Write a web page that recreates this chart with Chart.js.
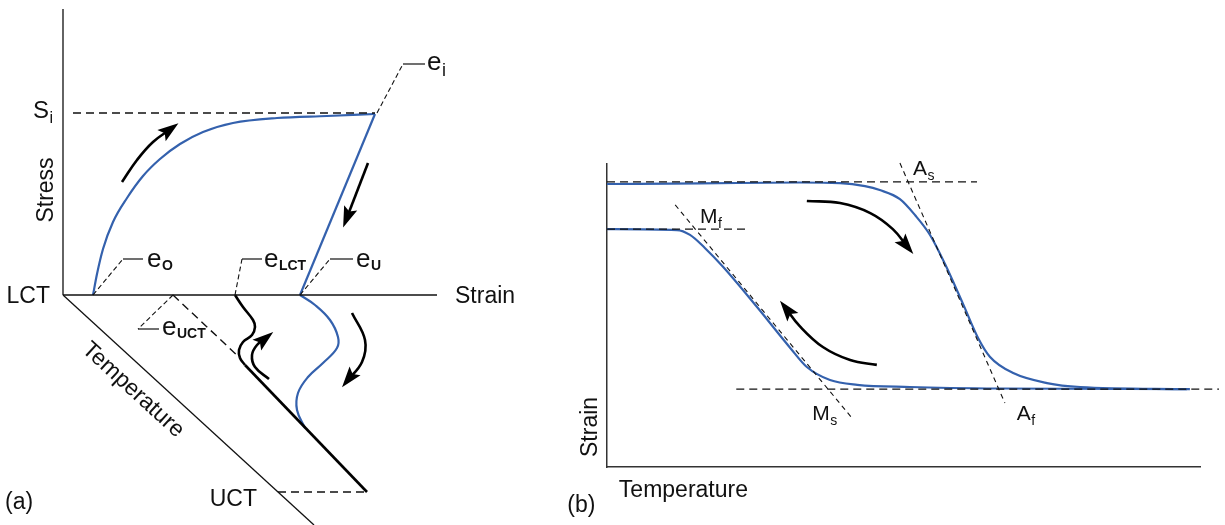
<!DOCTYPE html>
<html>
<head>
<meta charset="utf-8">
<title>Shape memory cycle</title>
<script src="https://cdn.jsdelivr.net/npm/chart.js@4.4.1/dist/chart.umd.min.js"></script>
<style>
    html, body { margin: 0; padding: 0; background: #fff; }
    #wrap { position: relative; width: 1225px; height: 525px; overflow: hidden; }
    #chartA { position: absolute; left: 0; top: 0; }
    #chartB { position: absolute; left: 560px; top: 0; }
</style>
</head>
<body>
<div id="wrap">
    <canvas id="chartA" width="520" height="525"></canvas>
    <canvas id="chartB" width="665" height="525"></canvas>
</div>
<script>
// ---------- (a) stress / strain / temperature, origin at LCT ----------
const stressAxis = [[0, 286], [0, 0]];
const strainAxis = [[0, 0], [374, 0]];
const tempAxis = [[0, 0], [251, -230]];

const loadingCurve = [[30, 0], [34, 21], [40, 46], [50, 73], [64, 97], [80, 119], [97, 136],
    [117, 151], [140, 163], [170, 172], [214, 177], [264, 179], [312, 181]];
const unloadingLine = [[312, 181], [237, 0]];
const recoveryBlue = [[237, 0], [252, -10], [267, -25], [275, -42], [274, -53], [260, -68],
    [245, -82], [235, -98], [234, -115], [242, -133]];
const recoveryBlack = [[172, 0], [180, -12], [190, -25], [192, -32], [189, -40], [180, -47],
    [176, -55], [177, -63], [182, -70]];
const recoveryTail = [[182, -70], [304, -197]];

const siLevel = [[10, 182], [312, 182]];
const uctLevel = [[215, -197], [304, -197]];
const uctProjection = [[110, 0], [177, -63]];

// leader lines: point -> corner (dashed), corner -> label (solid)
const leaderEi = [[314, 182], [340, 231], [362, 231]];
const leaderEo = [[30, 0], [60, 36], [80, 36]];
const leaderElct = [[172, 0], [179, 36], [199, 36]];
const leaderEu = [[237, 0], [267, 36], [290, 36]];
const leaderEuct = [[110, 0], [75, -34], [96, -34]];

const arrowLoad = [[59, 113], [74, 135], [90, 153], [109, 167]];
const arrowUnload = [[305, 132], [283, 75]];
const arrowCoolA = [[289, -18], [302, -45], [299, -67], [284, -86]];
const arrowHeatA = [[206, -84], [192, -72], [189, -60], [194, -50], [204, -42]];

const labelsA = [
    { x: -13, y: -8, text: 'LCT', align: 'right' },
    { x: 392, y: -8, text: 'Strain' },
    { x: -10, y: 105, text: 'Stress', rot: -90, align: 'center' },
    { x: -30, y: 177, text: 'S', sub: 'i', size: 24 },
    { x: 364, y: 225, text: 'e', sub: 'i', size: 26 },
    { x: 84, y: 28, text: 'e', sub: 'O', size: 26, subBold: true },
    { x: 201, y: 28, text: 'e', sub: 'LCT', size: 26, subBold: true },
    { x: 293, y: 28, text: 'e', sub: 'U', size: 26, subBold: true },
    { x: 99, y: -40, text: 'e', sub: 'UCT', size: 26, subBold: true },
    { x: 70, y: -95, text: 'Temperature', rot: 42.5, align: 'center', base: 'middle' },
    { x: 194, y: -211, text: 'UCT', align: 'right' },
    { x: -58, y: -214, text: '(a)' }
];

// ---------- (b) strain vs temperature ----------
const heatingCurve = [[0, 93.4], [15.7, 93.6], [32.5, 93.9], [39.3, 93.7], [43.5, 92.7], [46.0, 91.4],
    [49.4, 88.4], [52.0, 83.0], [54.5, 76.5], [57.0, 67.0], [60.0, 54.0], [62.6, 42.5], [64.6, 36.3],
    [68.5, 31.0], [74.2, 27.7], [79.8, 26.4], [97.8, 25.7]];
const coolingCurve = [[0, 78.5], [11.8, 78.2], [14.0, 76.6], [16.5, 72.3], [19.6, 66.0], [25.3, 52.8],
    [30.9, 39.3], [33.7, 33.0], [37.6, 28.7], [42.2, 27.1], [51.1, 26.4], [66.3, 25.9], [98.3, 25.7]];

const austeniteLevel = [[0, 94.1], [62.4, 94.1]];
const mfLevel = [[0, 78.5], [24.1, 78.5]];
const lowLevel = [[21.8, 25.7], [103.2, 25.7]];
const mTangent = [[11.5, 86.5], [41.3, 16.2]];
const aTangent = [[49.4, 100.3], [67.1, 21.1]];

const arrowHeatB = [[33.7, 87.8], [39.3, 87.1], [44.4, 83.8], [48.2, 78.5], [50.8, 72.3]];
const arrowCoolB = [[45.5, 33.7], [41.0, 35.3], [36.4, 39.6], [32.5, 46.5], [30.0, 52.8]];

const labelsB = [
    { x: 15.7, y: 80.5, text: 'M', sub: 'f', size: 21 },
    { x: 51.6, y: 96.4, text: 'A', sub: 's', size: 21 },
    { x: 34.6, y: 15.5, text: 'M', sub: 's', size: 21 },
    { x: 69.1, y: 15.5, text: 'A', sub: 'f', size: 21 },
    { x: 2.0, y: -9.9, text: 'Temperature' },
    { x: -1.7, y: 3.3, text: 'Strain', rot: -90 },
    { x: -6.7, y: -14.9, text: '(b)' }
];

const BLUE = '#3461ad';
const INK = '#111';
const FONT = '"Liberation Sans", Arial, Helvetica, sans-serif';

// helpers to build datasets
function path(points, opts) {
    return Object.assign({
        data: points,
        showLine: true,
        pointRadius: 0,
        borderColor: INK,
        borderWidth: 1.3,
        tension: 0,
        fill: false,
        clip: false,
        order: 1
    }, opts);
}
function dashed(points, opts) {
    return path(points, Object.assign({ borderDash: [8, 5], borderColor: '#111', borderWidth: 1.4, order: 0 }, opts));
}
function arrow(points, opts) {
    return path(points, Object.assign({ borderColor: '#000', borderWidth: 2.6, tension: 0.4, arrowHead: true }, opts));
}
function leader(points) {
    return [
        dashed(points.slice(0, 2), { borderDash: [5, 3], borderWidth: 1.1 }),
        path(points.slice(1), { borderWidth: 1.3, borderColor: '#222' })
    ];
}

// text with optional subscript
const labelPlugin = {
    id: 'schemeLabels',
    afterDatasetsDraw(chart, args, opts) {
        const { ctx, scales } = chart;
        (opts.items || []).forEach(function (l) {
            const px = scales.x.getPixelForValue(l.x);
            const py = scales.y.getPixelForValue(l.y);
            const size = l.size || 23;
            const subSize = Math.round(size * (l.subBold ? 0.54 : 0.68));
            const subFont = (l.subBold ? 'bold ' : '') + subSize + 'px ' + FONT;
            ctx.save();
            ctx.translate(px, py);
            if (l.rot) ctx.rotate(l.rot * Math.PI / 180);
            ctx.fillStyle = INK;
            ctx.textAlign = 'left';
            ctx.textBaseline = l.base || 'alphabetic';
            ctx.font = size + 'px ' + FONT;
            const w = ctx.measureText(l.text).width;
            let subW = 0;
            if (l.sub) {
                ctx.font = subFont;
                subW = ctx.measureText(l.sub).width + 1;
            }
            const total = w + subW;
            const start = l.align === 'right' ? -total : l.align === 'center' ? -total / 2 : 0;
            ctx.font = size + 'px ' + FONT;
            ctx.fillText(l.text, start, 0);
            if (l.sub) {
                ctx.font = subFont;
                ctx.fillText(l.sub, start + w + 0.5, size * (l.subBold ? 0.12 : 0.22));
            }
            ctx.restore();
        });
    }
};

// filled arrow heads at the end of flagged datasets
const arrowPlugin = {
    id: 'arrowHeads',
    afterDatasetsDraw(chart) {
        const ctx = chart.ctx;
        chart.data.datasets.forEach(function (ds, i) {
            if (!ds.arrowHead) return;
            const pts = chart.getDatasetMeta(i).data;
            const tip = pts[pts.length - 1];
            const prev = pts[pts.length - 2];
            const ang = Math.atan2(tip.y - prev.y, tip.x - prev.x);
            ctx.save();
            ctx.translate(tip.x, tip.y);
            ctx.rotate(ang);
            ctx.beginPath();
            ctx.moveTo(8, 0);
            ctx.lineTo(-13, -7);
            ctx.lineTo(-9, 0);
            ctx.lineTo(-13, 7);
            ctx.closePath();
            ctx.fillStyle = '#000';
            ctx.fill();
            ctx.restore();
        });
    }
};

const commonOptions = {
    responsive: false,
    animation: false,
    events: [],
    plugins: { legend: { display: false }, tooltip: { enabled: false } }
};

// Panel (a)
new Chart(document.getElementById('chartA'), {
    type: 'scatter',
    data: {
        datasets: [
            path(stressAxis), path(strainAxis), path(tempAxis),
            dashed(siLevel), dashed(uctLevel), dashed(uctProjection),
            ...leader(leaderEi), ...leader(leaderEo), ...leader(leaderElct),
            ...leader(leaderEu), ...leader(leaderEuct),
            path(loadingCurve, { borderColor: BLUE, borderWidth: 2.2, cubicInterpolationMode: 'monotone' }),
            path(unloadingLine, { borderColor: BLUE, borderWidth: 2.2 }),
            path(recoveryBlack, { borderColor: '#000', borderWidth: 2.6, tension: 0.4 }),
            path(recoveryTail, { borderColor: '#000', borderWidth: 2.6 }),
            path(recoveryBlue, { borderColor: BLUE, borderWidth: 2.2, tension: 0.4 }),
            arrow(arrowLoad), arrow(arrowUnload, { tension: 0 }),
            arrow(arrowCoolA), arrow(arrowHeatA)
        ]
    },
    options: Object.assign({}, commonOptions, {
        layout: { padding: 0 },
        scales: {
            x: { type: 'linear', min: -63, max: 457, display: false },
            y: { type: 'linear', min: -230, max: 295, display: false }
        },
        plugins: Object.assign({}, commonOptions.plugins, { schemeLabels: { items: labelsA } })
    }),
    plugins: [labelPlugin, arrowPlugin]
});

// Panel (b)
const axisStyle = {
    type: 'linear', min: 0, max: 100,
    grid: { display: false, drawTicks: false },
    ticks: { display: false },
    border: { display: true, color: '#333', width: 1.5 },
    title: { display: false }
};

new Chart(document.getElementById('chartB'), {
    type: 'scatter',
    data: {
        datasets: [
            dashed(austeniteLevel), dashed(mfLevel), dashed(lowLevel),
            dashed(mTangent, { borderDash: [5, 4], borderWidth: 1.1 }),
            dashed(aTangent, { borderDash: [5, 4], borderWidth: 1.1 }),
            path(heatingCurve, { borderColor: BLUE, borderWidth: 2.2, cubicInterpolationMode: 'monotone' }),
            path(coolingCurve, { borderColor: BLUE, borderWidth: 2.2, cubicInterpolationMode: 'monotone' }),
            arrow(arrowHeatB), arrow(arrowCoolB)
        ]
    },
    options: Object.assign({}, commonOptions, {
        layout: { padding: { left: 47, right: 25, top: 164, bottom: 58 } },
        scales: { x: axisStyle, y: axisStyle },
        plugins: Object.assign({}, commonOptions.plugins, { schemeLabels: { items: labelsB } })
    }),
    plugins: [labelPlugin, arrowPlugin]
});
</script>
</body>
</html>
